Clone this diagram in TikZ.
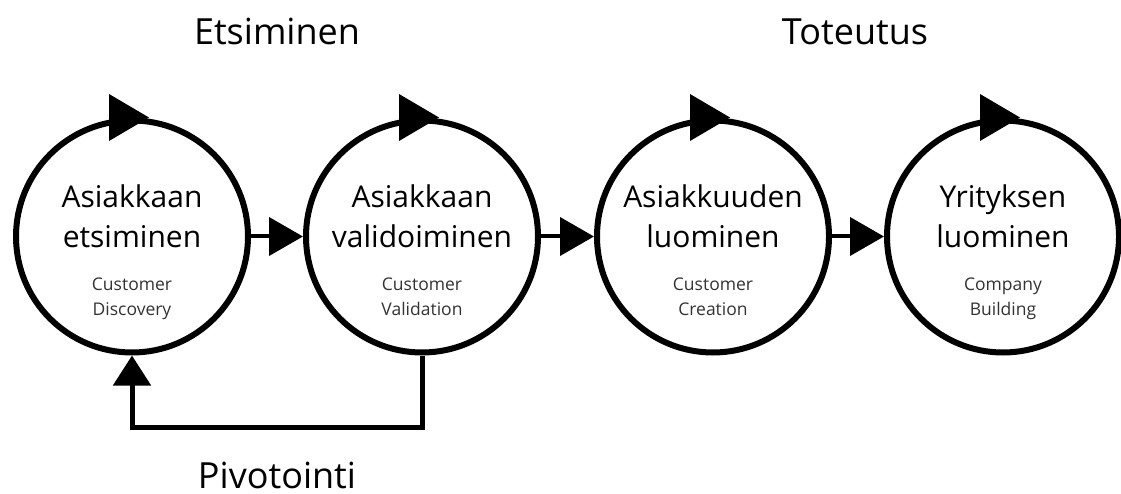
\documentclass[tikz,border=0pt]{standalone}
\usepackage{fontspec}
\setmainfont{Open Sans}
\usetikzlibrary{arrows.meta}
\tikzset{
    stage/.style = {draw, circle, line width=6pt, minimum size=232pt, inner sep=0pt},
    stagetext/.style = {align=center, inner sep=0pt, font=\fontsize{30}{41}\selectfont, text height=170pt, text depth=13pt},
    phase/.style = {font=\fontsize{36}{44}\selectfont, anchor=base, inner sep=0pt, text depth=0pt},
    flow/.style = {line width=4pt, -{Triangle[length=34pt, width=38pt]}},
    pivot/.style = {line width=5pt, -{Triangle[length=30pt, width=37pt]}},
}
\newcommand{\subtitle}[2]{{\fontsize{17.5}{25}\selectfont\color{black!80}#1}\\[-16pt]{\fontsize{17.5}{25}\selectfont\color{black!80}#2}}

\begin{document}
\begin{tikzpicture}[x=1pt, y=1pt]
\useasboundingbox (0,0) rectangle (1121,493);
\node [stage] (s1) at (132,256.5) {};
\node [stage] (s2) at (422,256.5) {};
\node [stage] (s3) at (713,256.5) {};
\node [stage] (s4) at (1003,256.5) {};
\node [stagetext] (t1) at (s1) {Asiakkaan\\etsiminen\\[1pt]\subtitle{Customer}{Discovery}};
\node [stagetext] (t2) at (s2) {Asiakkaan\\validoiminen\\[1pt]\subtitle{Customer}{Validation}};
\node [stagetext] (t3) at (s3) {Asiakkuuden\\luominen\\[1pt]\subtitle{Customer}{Creation}};
\node [stagetext] (t4) at (s4) {Yrityksen\\luominen\\[1pt]\subtitle{Company}{Building}};
% loop marks on top of each circle
\foreach \s in {s1,s2,s3,s4}
    \fill (\s.north) ++(-23,23.5) -- ++(0,-47) -- ++(40,23.5) -- cycle;
\draw [flow] (s1) -- (s2);
\draw [flow] (s2) -- (s3);
\draw [flow] (s3) -- (s4);
\draw [pivot] (s2.south) -- ++(0,-72) -| (s1.south);
\node [phase] (search) at (277,448) {Etsiminen};
\node [phase] (execution) at (855,448) {Toteutus};
\node [phase] (pivoting) at (277,5) {Pivotointi};
\end{tikzpicture}
\end{document}
